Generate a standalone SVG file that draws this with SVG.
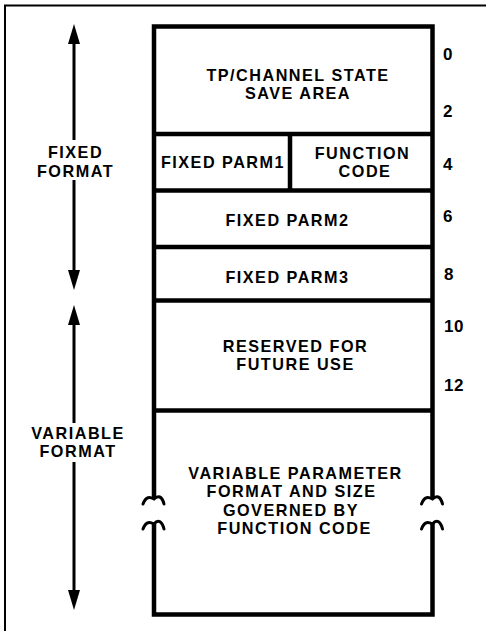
<svg xmlns="http://www.w3.org/2000/svg" width="486" height="631" viewBox="0 0 486 631">
  <defs>
    <marker id="arrow" viewBox="0 0 20 12" markerWidth="20" markerHeight="12" refX="10" refY="6" orient="auto" markerUnits="userSpaceOnUse">
      <path d="M0,0 L20,6 L0,12 z" fill="#000"/>
    </marker>
    <style>
      text { font-family: "Liberation Sans", Arial, Helvetica, sans-serif; font-weight: bold; font-size: 16.2px; letter-spacing: 1.5px; fill: #000; }
      .c { text-anchor: middle; }
      .n { font-size: 17px; letter-spacing: 0.5px; }
      .box { fill: none; stroke: #000; stroke-width: 4.5; stroke-linejoin: miter; }
      .div { stroke: #000; stroke-width: 4.5; }
      .brk { fill: none; stroke: #000; stroke-width: 3; stroke-linecap: round; }
      .arr { fill: none; stroke: #000; stroke-width: 3; marker-end: url(#arrow); }
      .frame { fill: none; stroke: #000; stroke-width: 2; }
    </style>
  </defs>
  <rect width="486" height="631" fill="#fff"/>
  <path class="frame" d="M5,631 V5.5 H486"/>

  <g id="record">
    <path class="box" d="M154,499 V26.5 H432.5 V499"/>
    <path class="box" d="M154,523 V614.5 H432.5 V523"/>
    <path class="brk" d="M143,504 C146,496 150,497 154,499 C158,495 162,496 164,504"/>
    <path class="brk" d="M143,529 C146,521 150,522 154,524 C158,519 162,521 164,529"/>
    <path class="brk" d="M421.5,504 C424.5,496 428.5,497 432.5,499 C436.5,495 440.5,496 442.5,504"/>
    <path class="brk" d="M421.5,529 C424.5,521 428.5,522 432.5,524 C436.5,519 440.5,521 442.5,529"/>
  </g>

  <g id="save-area">
    <line class="div" x1="154" y1="134" x2="432.5" y2="134"/>
    <text class="c" x="298" y="81">TP/CHANNEL STATE</text>
    <text class="c" x="298" y="99.4">SAVE AREA</text>
  </g>
  <g id="fixed-parm1">
    <line class="div" x1="290" y1="134" x2="290" y2="190.5"/>
    <text class="c" x="223" y="168">FIXED PARM1</text>
  </g>
  <g id="function-code">
    <line class="div" x1="154" y1="190.5" x2="432.5" y2="190.5"/>
    <text class="c" x="362.5" y="158.8">FUNCTION</text>
    <text class="c" x="365" y="177.2">CODE</text>
  </g>
  <g id="fixed-parm2">
    <line class="div" x1="154" y1="247" x2="432.5" y2="247"/>
    <text class="c" x="287.5" y="226">FIXED PARM2</text>
  </g>
  <g id="fixed-parm3">
    <line class="div" x1="154" y1="300.5" x2="432.5" y2="300.5"/>
    <text class="c" x="287.5" y="283">FIXED PARM3</text>
  </g>
  <g id="reserved">
    <line class="div" x1="154" y1="410.5" x2="432.5" y2="410.5"/>
    <text class="c" x="295.5" y="352">RESERVED FOR</text>
    <text class="c" x="295.5" y="370.4">FUTURE USE</text>
  </g>
  <g id="variable-parameter">
    <text class="c" x="295.5" y="478.8">VARIABLE PARAMETER</text>
    <text class="c" x="291.5" y="497.2">FORMAT AND SIZE</text>
    <text class="c" x="291" y="515.6">GOVERNED BY</text>
    <text class="c" x="294.5" y="534">FUNCTION CODE</text>
  </g>

  <g id="offsets">
    <text class="n" x="443" y="60">0</text>
    <text class="n" x="443" y="117">2</text>
    <text class="n" x="443" y="170">4</text>
    <text class="n" x="443" y="222">6</text>
    <text class="n" x="444" y="280">8</text>
    <text class="n" x="444" y="332">10</text>
    <text class="n" x="444" y="390.5">12</text>
  </g>

  <g id="fixed-format-label">
    <text class="c" x="75.5" y="158.2">FIXED</text>
    <text class="c" x="75.5" y="176.6">FORMAT</text>
  </g>
  <g id="variable-format-label">
    <text class="c" x="78" y="438.8">VARIABLE</text>
    <text class="c" x="78" y="457.2">FORMAT</text>
  </g>

  <g id="connectors">
    <path class="arr" d="M74,140 V34"/>
    <path class="arr" d="M74,180 V280"/>
    <path class="arr" d="M74,423 V315"/>
    <path class="arr" d="M74,462 V600"/>
  </g>
</svg>
